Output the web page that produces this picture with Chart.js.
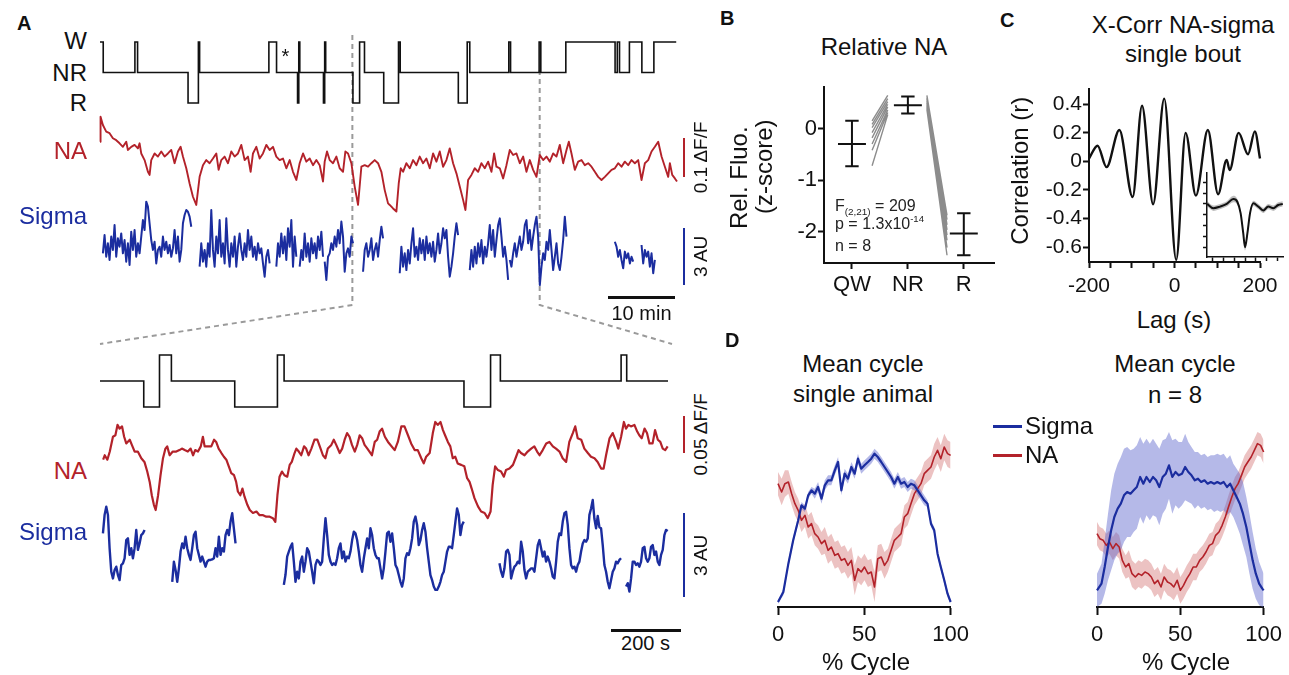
<!DOCTYPE html>
<html>
<head>
<meta charset="utf-8">
<script src="https://cdn.jsdelivr.net/npm/chart.js@4.4.1/dist/chart.umd.min.js"></script>
<style>
  html, body { margin: 0; padding: 0; background: #fff; }
  body { position: relative; width: 1289px; height: 675px; overflow: hidden; font-family: "Liberation Sans", Arial, sans-serif; color: #111; }
  canvas { position: absolute; }
  .t { position: absolute; white-space: nowrap; line-height: 1; }
  .t sub { font-size: 0.62em; line-height: 0; vertical-align: -0.45em; }
  .t sup { font-size: 0.6em; line-height: 0; vertical-align: 0.75em; }
  .bar { position: absolute; }
  svg { position: absolute; left: 0; top: 0; }
</style>
</head>
<body>
<script>
// ---------- Panel A: full recording (time in s) ----------
const stateLevel = { W: 2, NR: 1, R: 0 };
const hypTopT = [0,29,314,338,792,885,896,1519,1588,1777,1788,1797,2010,2021,2030,2275,2335,2379,2552,2685,2700,3223,3303,3326,3677,3693,3950,3965,4190,4633,4653,4673,4762,4874,4982,5183];
const hypTopS = ['W','NR','W','NR','R','W','NR','W','NR','R','W','NR','R','W','NR','R','W','NR','R','W','NR','R','W','NR','W','NR','W','NR','W','NR','W','NR','W','NR','W','W'];

// NA, % dF/F
const naTopT = [0,5,26,56,86,116,146,176,206,236,251,281,311,341,356,371,401,431,446,461,491,521,551,581,611,641,671,701,725,746,776,806,836,866,896,926,956,986,1016,1046,1067,1091,1121,1151,1181,1211,1241,1271,1301,1331,1355,1376,1406,1436,1466,1496,1526,1556,1586,1616,1646,1676,1706,1736,1766,1796,1826,1856,1886,1916,1946,1976,2006,2021,2042,2066,2096,2126,2156,2186,2207,2231,2261,2291,2321,2351,2381,2411,2441,2471,2501,2531,2561,2591,
  2606,2636,2666,2687,2705,2726,2756,2786,2816,2846,2876,2906,2936,2966,2996,3026,3056,3086,3116,3146,3176,3206,3236,3266,3287,3311,3341,3371,3401,3431,3461,3491,3521,3545,3566,3596,3626,3656,3686,3716,3746,3776,3806,3836,3866,3896,3926,3956,3986,4016,4046,4076,4106,4136,4166,4196,4217,4241,4271,4301,4331,4361,4391,4421,4451,4481,4511,4541,4571,4601,4631,4661,4691,4721,4751,4781,4811,4841,4871,4901,4931,4961,4991,5021,5051,5081,5111,5126,5147,5171,5190];
const naTopV = [17.5,23.9,21.8,20.1,19.7,18.4,17.9,17.1,16.2,17.5,15.4,16.2,16.7,15.8,17.1,14.5,12.8,9.8,9.0,12.8,14.5,13.7,15.0,13.7,14.5,15.4,12.0,15.0,16.2,13.7,10.7,6.8,3.4,1.3,8.5,11.5,12.8,12.0,13.2,14.5,10.3,12.8,13.7,12.0,15.0,13.7,14.5,16.7,12.8,13.7,9.8,14.5,16.2,13.2,14.5,16.7,15.4,16.2,13.7,12.8,13.2,10.7,12.8,9.8,7.7,12.0,14.5,12.4,13.2,11.5,12.8,11.5,7.3,12.4,15.0,12.8,12.0,13.7,10.7,9.8,15.0,14.5,12.0,6.0,1.3,11.1,11.5,11.1,12.0,12.8,12.0,9.8,5.1,1.7,
  1.3,0.4,-0.4,6.8,10.7,9.8,12.0,10.7,12.8,11.5,13.7,12.0,13.2,10.7,14.5,12.4,15.0,11.1,12.8,15.8,12.0,9.4,6.0,2.6,0.0,7.7,9.0,10.7,9.8,12.0,10.7,12.4,9.8,14.5,11.1,10.7,8.1,11.5,15.4,14.1,14.5,12.0,13.7,9.8,12.8,10.3,8.5,14.1,12.8,13.7,12.4,14.5,13.7,16.7,12.0,15.4,17.5,14.5,10.3,12.4,12.8,11.5,12.0,11.1,9.8,8.5,7.7,8.5,9.4,10.3,10.7,12.0,11.1,12.4,11.5,12.8,12.0,12.8,7.7,12.0,12.8,15.0,16.2,17.5,13.7,11.1,8.5,12.0,9.0,8.1,7.3];

// sigma power (AU), NREM bouts sampled every 15 s
const sigTopDt = 15;
const sigTopStart = [26, 896, 1586, 1796, 2021, 2366, 2696, 3326, 3686, 4631, 4871];
const sigTopSegs = [
  [1.93,2.89,1.75,2.46,1.58,2.81,2.11,3.42,1.75,2.72,2.28,2.98,1.93,2.63,1.49,2.46,1.32,3.07,2.11,3.16,1.75,2.46,1.93,2.81,3.68,3.16,4.65,4.39,3.51,2.63,2.11,2.54,1.40,2.11,2.28,1.75,2.81,2.11,2.54,1.93,2.37,1.75,2.19,3.16,1.93,2.81,1.49,2.11,3.51,3.95,4.21,4.12,3.86,3.33],
  [1.23,2.46,1.49,2.11,1.23,2.46,1.75,4.21,2.11,1.23,2.81,1.93,3.68,1.75,2.46,1.40,3.77,2.11,1.23,2.46,1.75,2.81,1.23,2.28,2.98,2.11,1.58,2.46,1.75,3.16,2.11,2.81,1.75,2.28,1.58,2.46,1.93,2.19,1.40,0.70,1.75,2.11,1.40],
  [1.23,2.46,1.75,2.98,1.93,2.81,1.58,3.25,2.28,3.68,1.23,2.81,1.75],
  [1.23,2.11,1.58,2.98,1.75,2.46,1.49,2.72,1.93,2.46,1.67,2.81,2.11,3.07,1.75],
  [1.49,0.53,1.75,1.93,2.46,2.11,2.81,2.28,3.16,2.46,3.60,2.81,0.96,1.93,2.19,1.75,2.81,2.46],
  [0.96,2.11,2.46,1.75,2.11,2.72,1.58,2.11,2.46,1.75,2.63,3.33,2.72],
  [0.88,2.28,1.23,1.93,1.05,2.11,1.40,2.46,3.25,1.75,2.28,1.58,2.72,1.93,2.63,1.58,2.81,1.93,2.46,1.75,2.54,1.49,2.11,2.98,1.93,2.46,3.25,2.72,3.16,1.75,0.70,1.23,1.93,2.81,3.51,2.89],
  [1.05,2.11,1.23,2.28,1.40,2.46,1.75,2.63,1.40,2.28,1.75,2.46,3.42,2.11,3.16,1.75,2.63,3.42,3.77,2.81,1.75,2.28,1.58,0.53],
  [1.58,1.23,1.93,2.46,1.75,2.28,2.81,2.11,2.54,3.42,3.68,2.46,3.16,2.11,2.81,3.42,3.86,2.81,0.26,1.23,1.93,1.58,2.54,2.11,3.16,2.11,1.05,1.75,2.46,1.40,1.05,1.75,2.63,3.86,2.81],
  [2.54,2.28,1.75,2.11,1.58,1.14,2.02,1.67,1.93,1.40,1.75,1.49],
  [2.37,1.40,2.11,1.75,2.02,1.23,1.93,0.88,1.58]
];
const zoomWin = [2270, 3955];

// ---------- Panel A: zoomed window (time in s) ----------
const hypZoomT = [0,125,170,204,385,507,526,1040,1116,1144,1489,1505,1623];
const hypZoomS = ['NR','R','W','NR','R','W','NR','R','W','NR','W','NR','NR'];
const naZoomT = [9,13.5,21,28,37,44,50,56,63,69,75,85,91,99,108,118,127,135,142,148,154,159,166,173,180,187,192,199,208,218,227,234,242,251,259,266,272,280,288,294,299,308,318,326,332,339,347,354,361,368,375,383,389,394,401,407,413,421,428,437,447,456,466,475,485,494,501,507,513,520,527,535,542,548,556,561,568,575,583,589,596,604,613,621,628,637,644,651,661,668,675,685,692,699,706,713,720,728,735,742,749,756,764,770,777,785,792,799,806,814,823,
  842,851,861,870,880,889,899,908,918,925,932,942,951,958,965,973,980,986,994,1001,1008,1015,1022,1032,1041,1049,1056,1062,1070,1080,1089,1099,1108,1116,1122,1129,1137,1146,1154,1160,1170,1180,1189,1196,1203,1213,1222,1232,1241,1249,1256,1265,1275,1284,1294,1303,1313,1322,1332,1341,1351,1358,1365,1375,1384,1394,1403,1413,1422,1432,1439,1446,1456,1465,1475,1481,1489,1497,1503,1510,1517,1527,1535,1541,1548,1556,1563,1570,1579,1586,1594,1601,1608,1615,1622];
const naZoomV = [9.5,10.1,9.5,10.6,12.6,12.8,14.2,13.7,14.0,12.6,11.7,12.2,11.5,10.6,10.6,9.7,9.2,7.9,6.5,4.7,3.4,2.7,4.7,7.4,9.7,11.0,11.3,10.1,10.6,10.6,10.8,11.0,10.8,10.6,11.0,10.1,10.8,10.6,11.3,12.6,11.3,11.3,11.3,12.2,11.9,11.0,10.4,9.9,9.5,8.6,7.7,7.4,6.5,5.2,4.7,5.6,4.5,3.4,2.7,2.3,2.5,2.0,2.0,1.8,1.8,1.6,1.1,4.7,7.2,7.9,7.4,7.2,8.8,9.2,10.4,11.0,10.6,10.1,11.3,11.0,10.1,11.0,12.2,12.2,11.3,10.1,9.7,11.0,11.5,12.2,11.5,10.4,11.0,12.2,13.1,12.6,11.5,10.6,11.5,12.8,12.4,11.5,11.0,10.6,10.1,11.9,12.2,13.3,13.7,12.6,11.9,
  10.8,11.9,14.0,14.0,12.8,11.7,10.8,10.8,9.7,9.0,9.9,10.4,13.1,14.6,14.2,14.6,13.5,12.8,11.9,11.3,9.7,9.9,9.0,8.8,8.6,7.0,6.5,5.6,4.3,3.2,2.5,2.3,1.6,2.5,6.1,8.6,8.1,7.9,7.2,8.1,8.3,8.8,9.9,10.8,10.4,10.1,10.6,11.0,11.3,10.6,10.1,10.8,11.7,11.9,11.3,11.0,10.6,9.7,9.2,11.9,13.1,14.0,12.4,12.2,11.0,10.4,9.9,9.7,9.2,8.3,8.3,10.1,12.4,13.1,11.9,11.0,12.6,14.6,13.7,14.2,14.0,14.2,13.3,12.8,12.4,13.7,13.1,11.7,11.7,13.5,12.2,11.9,11.0,10.8,11.3];
const sigZoomDt = 4.76;
const sigZoomStart = [8.4, 206.4, 525.3, 1141.4, 1503.2];
const sigZoomSegs = [
  [2.38,3.04,3.33,3.04,1.85,1.01,0.77,1.07,1.19,0.89,0.71,1.25,1.31,1.49,2.14,2.20,1.61,1.85,1.49,1.85,2.50,1.79,2.02,2.32,2.38,2.50],
  [0.65,1.37,1.07,0.65,1.13,1.73,2.02,1.85,2.26,1.85,1.61,1.43,1.85,2.32,2.44,1.85,1.61,1.37,1.55,1.37,1.19,1.37,1.43,1.43,1.45,1.49,1.85,1.55,2.26,1.61,1.85,1.73,2.32,2.50,2.32,2.80,3.10,2.56,2.02],
  [0.54,0.9,1.55,1.73,1.90,2.02,1.37,0.65,1.01,0.77,1.37,1.55,1.01,1.37,1.85,1.73,1.37,1.01,0.60,1.25,1.43,1.37,1.25,1.37,2.20,2.92,2.32,1.61,1.37,1.25,1.31,1.25,1.49,1.85,2.02,1.49,1.73,1.37,1.55,1.49,1.73,2.14,2.44,2.38,2.14,1.73,1.25,1.01,1.49,1.85,2.20,1.85,2.56,2.32,1.85,1.61,1.49,1.49,1.13,0.77,1.13,1.73,2.38,2.44,
   2.08,2.38,1.85,1.25,1.13,0.89,0.65,0.48,0.77,1.49,1.67,1.61,1.85,2.20,2.80,2.98,2.68,1.96,2.14,2.50,2.74,2.44,1.85,1.37,0.89,0.71,0.48,0.36,0.36,0.48,0.65,0.89,1.01,1.37,1.73,1.90,1.90,1.85,2.32,2.80,3.27,3.04,2.32,2.68,2.80],
  [1.31,1.01,0.83,1.13,1.73,1.79,1.61,0.77,1.01,1.19,1.25,1.37,1.31,2.08,1.73,1.07,0.77,1.01,1.07,1.13,1.13,1.01,1.49,1.96,2.14,1.85,1.55,1.73,1.37,1.55,1.37,1.13,0.83,0.77,1.37,2.08,2.38,2.32,2.80,3.10,3.15,2.68,1.85,1.25,1.13,1.19,1.01,1.25,1.37,1.73,2.02,2.14,2.08,2.20,3.04,3.27,3.57,2.9,2.56,3.0,2.6,2.56,1.96,1.25,1.01,0.65,0.42,0.71,1.01,1.13,1.37,1.31,1.43,1.49],
  [0.48,0.60,0.30,0.77,1.37,1.37,1.25,1.31,1.19,1.37,1.85,1.90,1.49,1.37,1.49,1.90,1.96,1.61,1.73,1.37,1.25,1.61,1.79,2.32,2.50,2.46]
];

// ---------- Panel B ----------
const bCats = ['QW', 'NR', 'R'];
const bPos = [1, 2, 3];
const bMean = [-0.30, 0.45, -2.03];
const bHi = [0.15, 0.62, -1.64];
const bLo = [-0.73, 0.29, -2.45];
const bTicksY = [-2, -1, 0];
const bQW = [0.15, 0.08, 0.02, -0.08, -0.18, -0.30, -0.42, -0.72];
const bNRa = [0.64, 0.58, 0.52, 0.47, 0.42, 0.36, 0.31, 0.27];
const bNRb = [0.64, 0.60, 0.57, 0.53, 0.49, 0.45, 0.41, 0.37];
const bR = [-1.68, -1.76, -1.86, -1.96, -2.06, -2.16, -2.30, -2.45];

// ---------- Panel C ----------
const cLag = [-200,-180,-159,-129,-98,-76,-50,-24,4,26,50,78,102,122,129,150,172,188,200];
const cR = [0.02,0.11,-0.04,0.22,-0.25,0.39,-0.30,0.44,-0.69,0.20,-0.24,0.22,-0.23,0.01,-0.06,0.20,0.05,0.21,0.02];
const cTicksX = [-200,-150,-100,-50,0,50,100,150,200];
const cLabX = [-200, 0, 200];
const cTicksY = [-0.6,-0.4,-0.2,0,0.2,0.4];
const insetLag = [-172,-144,-114,-83,-53,-35,-20,-8,0,11,23,38,61,83,106,129,151,172];
const insetR = [0.0,-0.08,-0.05,0.0,0.09,0.04,-0.17,-0.54,-0.8,-0.54,-0.17,0.01,-0.05,-0.12,-0.05,-0.08,-0.02,0.0];
const insetE = [0.05,0.05,0.05,0.05,0.06,0.05,0.05,0.06,0.06,0.06,0.05,0.05,0.05,0.05,0.05,0.05,0.05,0.05];
const insetTicksX = [-150,-100,-50,0,50,100,150];
const insetTicksY = [-0.8,-0.6,-0.4,-0.2,0,0.2,0.4];

// ---------- Panel D (normalised, mean +/- sem) ----------
const dTicks = [0, 50, 100];
const dLeftSigX = [0,3.1,6.0,8.8,11.7,13.6,15.6,17.5,19.4,21.3,23.2,25.2,27.1,29.0,30.9,32.9,34.8,36.7,38.6,40.5,42.5,44.4,46.3,48.2,50.1,52.1,54.0,55.9,57.8,59.8,61.7,63.6,65.5,67.4,69.4,71.3,73.2,75.1,77.0,79.0,80.9,82.8,84.7,86.6,88.6,90.5,92.4,94.3,96.3,98.2,100];
const dLeftSigV = [0.03,0.09,0.26,0.40,0.52,0.61,0.59,0.67,0.70,0.68,0.72,0.65,0.73,0.76,0.76,0.82,0.87,0.70,0.80,0.77,0.84,0.80,0.89,0.83,0.85,0.87,0.89,0.92,0.90,0.87,0.84,0.81,0.78,0.74,0.78,0.74,0.75,0.72,0.74,0.73,0.70,0.67,0.64,0.62,0.50,0.46,0.32,0.24,0.16,0.08,0.03];
const dLeftSigE = [0.01,0.02,0.02,0.02,0.02,0.02,0.02,0.02,0.02,0.03,0.03,0.03,0.03,0.03,0.03,0.03,0.03,0.03,0.03,0.03,0.03,0.03,0.03,0.03,0.03,0.03,0.03,0.03,0.03,0.03,0.03,0.03,0.03,0.03,0.03,0.03,0.03,0.03,0.03,0.03,0.03,0.03,0.03,0.02,0.02,0.02,0.02,0.02,0.02,0.02,0.01];
const dLeftNaX = [0,2.1,4.0,6.0,7.9,9.8,11.7,13.6,15.6,17.5,19.4,21.3,23.2,25.2,27.1,29.0,30.9,32.9,34.8,36.7,38.6,40.5,42.5,44.4,46.3,48.2,50.1,52.1,54.0,55.9,57.8,59.8,61.7,63.6,65.5,67.4,69.4,71.3,73.2,75.1,77.0,79.0,80.9,82.8,84.7,86.6,88.6,90.5,92.4,94.3,96.3,98.2,100];
const dLeftNaV = [0.74,0.69,0.74,0.75,0.68,0.62,0.58,0.52,0.55,0.48,0.50,0.44,0.42,0.38,0.40,0.34,0.36,0.31,0.32,0.28,0.29,0.25,0.28,0.16,0.23,0.21,0.24,0.20,0.21,0.12,0.29,0.30,0.25,0.28,0.34,0.40,0.42,0.44,0.54,0.56,0.62,0.68,0.71,0.74,0.80,0.82,0.84,0.90,0.94,0.89,0.96,0.92,0.91];
const dLeftNaE = [0.07,0.08,0.08,0.07,0.07,0.07,0.07,0.07,0.07,0.07,0.07,0.07,0.07,0.07,0.08,0.08,0.08,0.08,0.08,0.08,0.08,0.08,0.08,0.09,0.08,0.08,0.08,0.08,0.08,0.09,0.08,0.08,0.08,0.07,0.07,0.07,0.07,0.07,0.07,0.07,0.07,0.07,0.07,0.07,0.07,0.07,0.07,0.08,0.08,0.08,0.08,0.08,0.08];
const dRightSigX = [0,2.7,4.6,6.6,8.5,10.4,12.4,14.3,16.2,18.1,20.1,22.0,23.9,25.9,27.8,29.7,31.7,33.6,35.5,37.4,39.4,41.3,43.2,45.2,47.1,49.0,51.0,52.9,54.8,56.7,58.7,60.6,62.5,64.5,66.4,68.3,70.3,72.2,74.1,76.0,78.0,79.9,81.8,83.8,85.7,87.6,89.6,91.5,93.4,95.3,97.3,99.2,100];
const dRightSigV = [0.10,0.14,0.24,0.36,0.46,0.54,0.59,0.62,0.67,0.69,0.68,0.70,0.72,0.78,0.74,0.78,0.75,0.78,0.76,0.72,0.78,0.80,0.85,0.78,0.81,0.79,0.80,0.84,0.81,0.79,0.76,0.77,0.75,0.76,0.74,0.75,0.74,0.75,0.74,0.75,0.72,0.74,0.70,0.66,0.62,0.56,0.48,0.38,0.28,0.20,0.14,0.11,0.10];
const dRightSigE = [0.10,0.12,0.16,0.20,0.24,0.26,0.27,0.28,0.28,0.27,0.26,0.25,0.25,0.24,0.24,0.23,0.23,0.23,0.22,0.23,0.22,0.21,0.20,0.22,0.20,0.20,0.19,0.20,0.18,0.17,0.17,0.16,0.16,0.16,0.16,0.16,0.17,0.17,0.17,0.17,0.17,0.17,0.16,0.17,0.18,0.19,0.18,0.18,0.17,0.15,0.13,0.11,0.10];
const dRightNaX = [0,1.7,3.7,5.6,7.5,9.5,11.4,13.3,15.2,17.2,19.1,21.0,23.0,24.9,26.8,28.8,30.7,32.6,34.5,36.5,38.4,40.3,42.3,44.2,46.1,48.1,50.0,51.9,53.9,55.8,57.7,59.6,61.6,63.5,65.4,67.4,69.3,71.2,73.2,75.1,77.0,78.9,80.9,82.8,84.7,86.7,88.6,90.5,92.5,94.4,96.3,98.2,100];
const dRightNaV = [0.44,0.41,0.40,0.37,0.39,0.35,0.38,0.36,0.28,0.24,0.26,0.20,0.18,0.20,0.19,0.21,0.20,0.18,0.14,0.16,0.12,0.18,0.15,0.14,0.12,0.16,0.10,0.13,0.17,0.20,0.24,0.24,0.28,0.30,0.33,0.37,0.38,0.43,0.45,0.49,0.54,0.60,0.66,0.71,0.74,0.79,0.84,0.87,0.90,0.94,0.98,0.97,0.93];
const dRightNaE = [0.07,0.07,0.07,0.07,0.07,0.07,0.07,0.07,0.07,0.07,0.08,0.08,0.08,0.08,0.08,0.08,0.08,0.08,0.08,0.08,0.08,0.08,0.08,0.08,0.08,0.08,0.08,0.08,0.08,0.08,0.08,0.08,0.07,0.07,0.07,0.07,0.07,0.07,0.07,0.07,0.07,0.07,0.07,0.07,0.07,0.07,0.07,0.07,0.07,0.07,0.07,0.07,0.07];

// ---------- setup ----------
const RED = '#b3222a', BLUE = '#1b2d9f', INK = '#111';
const FONT = '"Liberation Sans", Arial, sans-serif';
Chart.defaults.font.family = FONT;
Chart.defaults.color = INK;
Chart.defaults.animation = false;
Chart.defaults.events = [];
Chart.defaults.plugins.legend.display = false;
Chart.defaults.plugins.tooltip.enabled = false;
Chart.defaults.elements.point.radius = 0;
Chart.defaults.elements.line.borderJoinStyle = 'round';

// canvas whose chart area lands on `area` (page px); m = margins, wy/hx = fixed axis sizes
function place(area, m, cfg, wy, hx) {
  const [l, t, r, b] = area;
  const c = document.createElement('canvas');
  const w = r - l + m[0] + m[2], h = b - t + m[1] + m[3];
  c.width = w; c.height = h;
  Object.assign(c.style, { left: (l - m[0]) + 'px', top: (t - m[1]) + 'px', width: w + 'px', height: h + 'px' });
  document.body.appendChild(c);
  cfg.options = Object.assign({
    responsive: false, devicePixelRatio: 1,
    layout: { autoPadding: false, padding: { left: m[0] - (wy || 0), top: m[1], right: m[2], bottom: m[3] - (hx || 0) } }
  }, cfg.options);
  const ch = new Chart(c, cfg);
  ch.offX = l - m[0]; ch.offY = t - m[1];
  return ch;
}
const hid = (min, max) => ({ type: 'linear', display: false, min, max });

function axis(pos, min, max, ticks, fmt, o) {
  return {
    type: 'linear', position: pos, min, max,
    afterBuildTicks: s => { s.ticks = ticks.map(v => ({ value: v })); },
    afterFit: s => { if (pos === 'left') s.width = o.size; else s.height = o.size; },
    ticks: { display: o.labels !== false, autoSkip: false, maxRotation: 0, padding: o.pad, color: INK, font: { size: o.font }, callback: fmt },
    grid: { drawOnChartArea: false, drawTicks: true, tickLength: o.tl, tickWidth: o.w, tickColor: INK },
    border: { display: true, color: INK, width: o.w }
  };
}

function trace(area, xr, yr, pts, color, width, extra) {
  return place(area, [4, 4, 4, 4], {
    type: 'line',
    data: { datasets: [Object.assign({ data: pts, borderColor: color, borderWidth: width, fill: false, spanGaps: false, clip: false, tension: 0 }, extra || {})] },
    options: { scales: { x: hid(xr[0], xr[1]), y: hid(yr[0], yr[1]) } }
  });
}

function segPts(starts, segs, dt) {
  const pts = [];
  segs.forEach((seg, k) => {
    seg.forEach((v, i) => pts.push({ x: starts[k] + i * dt, y: v }));
    pts.push({ x: starts[k] + seg.length * dt, y: null });
  });
  return pts;
}
const xy = (xs, ys) => xs.map((x, i) => ({ x, y: ys[i] }));

// ---------- Panel A charts ----------
const hypPts = (ts, ss) => ts.map((t, i) => ({ x: t, y: stateLevel[ss[i]] }));
const hypTop = trace([100, 42, 677, 103], [0, 5190], [0, 2], hypPts(hypTopT, hypTopS), INK, 1.6, { stepped: true, borderJoinStyle: 'miter' });
const naTop = trace([100, 110, 677, 215], [0, 5190], [-1.28, 25.64], xy(naTopT, naTopV), RED, 1.9);
const sigTop = trace([100, 195, 677, 295], [0, 5190], [-0.263, 5.0], segPts(sigTopStart, sigTopSegs, sigTopDt), BLUE, 2);
const hypZoom = trace([100, 355, 668, 407], [0, 1623], [0, 2], hypPts(hypZoomT, hypZoomS), INK, 1.6, { stepped: true, borderJoinStyle: 'miter' });
const naZoom = trace([100, 415, 668, 535], [0, 1623], [-0.676, 15.54], xy(naZoomT, naZoomV), RED, 2.2);
const sigZoom = trace([100, 495, 668, 605], [0, 1623], [-0.179, 3.75], segPts(sigZoomStart, sigZoomSegs, sigZoomDt), BLUE, 2.4);

// ---------- Panel B ----------
const eb = [];
bPos.forEach((c, i) => {
  eb.push({ x: c - 0.25, y: bMean[i] }, { x: c + 0.25, y: bMean[i] }, { x: c, y: null },
          { x: c, y: bLo[i] }, { x: c, y: bHi[i] }, { x: c, y: null },
          { x: c - 0.12, y: bHi[i] }, { x: c + 0.12, y: bHi[i] }, { x: c, y: null },
          { x: c - 0.12, y: bLo[i] }, { x: c + 0.12, y: bLo[i] }, { x: c, y: null });
});
const indiv = [];
bQW.forEach((q, i) => {
  indiv.push({ x: 1.36, y: q }, { x: 1.64, y: bNRa[i] }, { x: 1.7, y: null },
             { x: 2.34, y: bNRb[i] }, { x: 2.70, y: bR[i] }, { x: 2.75, y: null });
});
place([824, 81, 994, 263], [84, 8, 10, 40], {
  type: 'line',
  data: { datasets: [
    { data: eb, borderColor: INK, borderWidth: 2, spanGaps: false, clip: false, borderJoinStyle: 'miter' },
    { data: indiv, borderColor: '#8c8c8c', borderWidth: 1.4, spanGaps: false, clip: false }
  ] },
  options: { scales: {
    x: axis('bottom', 0.5, 3.54, bPos, v => bCats[bPos.indexOf(v)] || '', { size: 36, pad: 3, font: 22, tl: 6, w: 2 }),
    y: axis('left', -2.6, 0.8, bTicksY, v => String(v), { size: 62, pad: 1, font: 22, tl: 6, w: 2 })
  } }
}, 62, 36);

// ---------- Panel C ----------
place([1089, 83, 1260, 262], [60, 8, 24, 40], {
  type: 'line',
  data: { datasets: [{ data: xy(cLag, cR), borderColor: INK, borderWidth: 2.4, cubicInterpolationMode: 'monotone', clip: false }] },
  options: { scales: {
    x: axis('bottom', -200, 200, cTicksX, v => cLabX.includes(v) ? String(v) : '', { size: 36, pad: 6, font: 21, tl: 6, w: 2 }),
    y: axis('left', -0.705, 0.51, cTicksY, v => v === 0 ? '0' : v.toFixed(1), { size: 56, pad: 1, font: 21, tl: 6, w: 2 })
  } }
}, 56, 36);

place([1207, 173, 1283, 257], [10, 4, 4, 10], {
  type: 'line',
  data: { datasets: [
    { data: xy(insetLag, insetR), borderColor: INK, borderWidth: 2, cubicInterpolationMode: 'monotone', clip: false },
    { data: insetLag.map((x, i) => ({ x, y: insetR[i] + insetE[i] })), borderWidth: 0, backgroundColor: 'rgba(0,0,0,0.25)', fill: '+1', cubicInterpolationMode: 'monotone', clip: false },
    { data: insetLag.map((x, i) => ({ x, y: insetR[i] - insetE[i] })), borderWidth: 0, fill: false, cubicInterpolationMode: 'monotone', clip: false }
  ] },
  options: { scales: {
    x: axis('bottom', -173, 173, insetTicksX, () => '', { size: 8, pad: 0, font: 10, tl: 4, w: 1.5, labels: false }),
    y: axis('left', -0.98, 0.57, insetTicksY, () => '', { size: 8, pad: 0, font: 10, tl: 4, w: 1.5, labels: false })
  } }
}, 8, 8);

// ---------- Panel D ----------
function band(xs, ys, es, line, fillc, lw) {
  return [
    { data: xy(xs, ys), borderColor: line, borderWidth: lw, clip: false },
    { data: xs.map((x, i) => ({ x, y: ys[i] + es[i] })), borderWidth: 0, backgroundColor: fillc, fill: '+1', clip: false },
    { data: xs.map((x, i) => ({ x, y: ys[i] - es[i] })), borderWidth: 0, fill: false, clip: false }
  ];
}
function cyclePanel(area, m, sig, na, sigLw, naLw) {
  const s = band(sig[0], sig[1], sig[2], BLUE, 'rgba(90,100,205,0.45)', sigLw);
  const n = band(na[0], na[1], na[2], RED, 'rgba(205,95,95,0.38)', naLw);
  return place(area, m, {
    type: 'line',
    data: { datasets: [s[0], n[0], s[1], s[2], n[1], n[2]] },
    options: { scales: {
      x: axis('bottom', 0, 100, dTicks, v => String(v), { size: 44, pad: 7, font: 22, tl: 8, w: 2 }),
      y: hid(0, 1.062)
    } }
  }, 0, 44);
}
cyclePanel([778, 430, 952, 607], [20, 6, 24, 48], [dLeftSigX, dLeftSigV, dLeftSigE], [dLeftNaX, dLeftNaV, dLeftNaE], 2.2, 1.6);
cyclePanel([1097, 430, 1270, 607], [20, 6, 19, 48], [dRightSigX, dRightSigV, dRightSigE], [dRightNaX, dRightNaV, dRightNaE], 2.2, 1.6);

// ---------- annotations ----------
function txt(html, x, y, size, o) {
  o = o || {};
  const d = document.createElement('div');
  d.className = 't';
  d.innerHTML = html;
  d.style.fontSize = size + 'px';
  d.style.left = x + 'px';
  d.style.top = (y - 0.49 * size) + 'px';
  if (o.color) d.style.color = o.color;
  if (o.bold) d.style.fontWeight = 'bold';
  const sh = o.align === 'center' ? '-50%' : o.align === 'right' ? '-100%' : '0';
  let tf = 'translateX(' + sh + ')';
  if (o.rot) { tf += ' rotate(-90deg)'; d.style.transformOrigin = '50% ' + (0.49 * size) + 'px'; }
  d.style.transform = tf;
  document.body.appendChild(d);
}
function bar(x, y, w, h, color) {
  const d = document.createElement('div');
  d.className = 'bar';
  Object.assign(d.style, { left: x + 'px', top: y + 'px', width: w + 'px', height: h + 'px', background: color });
  document.body.appendChild(d);
}
const span = (ch, ax, v) => Math.abs(ch.scales[ax].getPixelForValue(v) - ch.scales[ax].getPixelForValue(0));

// zoom connector
const px = (ch, v) => ch.scales.x.getPixelForValue(v) + ch.offX;
const zl = px(hypTop, zoomWin[0]), zr = px(hypTop, zoomWin[1]);
const zl2 = px(hypZoom, 0), zr2 = px(hypZoom, 1623) + 4;
const svg = document.createElementNS('http://www.w3.org/2000/svg', 'svg');
svg.setAttribute('width', 1289); svg.setAttribute('height', 675);
svg.innerHTML =
  '<polyline points="' + zl + ',35 ' + zl + ',305 ' + zl2 + ',344" fill="none" stroke="#9a9a9a" stroke-width="2" stroke-dasharray="5,4"/>' +
  '<polyline points="' + zr + ',70 ' + zr + ',305 ' + zr2 + ',344" fill="none" stroke="#9a9a9a" stroke-width="2" stroke-dasharray="5,4"/>';
document.body.insertBefore(svg, document.body.firstChild);

// scale bars
bar(682.5, 138, 2.5, span(naTop, 'y', 10), RED);
bar(682.5, 228, 2.5, span(sigTop, 'y', 3), BLUE);
bar(682.5, 416, 2.5, span(naZoom, 'y', 5), RED);
bar(682.5, 513, 2.5, span(sigZoom, 'y', 3), BLUE);
bar(608, 296, span(hypTop, 'x', 600), 2.5, INK);
bar(611, 629, span(hypZoom, 'x', 200), 2.5, INK);

// text: panel A
txt('A', 17, 23, 20, { bold: true });
txt('W', 87, 41, 24, { align: 'right' });
txt('NR', 87, 72.5, 24, { align: 'right' });
txt('R', 87, 103, 24, { align: 'right' });
txt('NA', 87, 151, 24, { align: 'right', color: RED });
txt('Sigma', 87, 216, 24, { align: 'right', color: BLUE });
txt('*', 285.5, 56, 20, { align: 'center' });
txt('NA', 87, 470.5, 24, { align: 'right', color: RED });
txt('Sigma', 87, 532, 24, { align: 'right', color: BLUE });
txt('10 min', 641.5, 313, 20, { align: 'center' });
txt('200 s', 645.5, 643, 20, { align: 'center' });
txt('0.1 ΔF/F', 700, 157.5, 19, { align: 'center', rot: true });
txt('3 AU', 700, 256.5, 19, { align: 'center', rot: true });
txt('0.05 ΔF/F', 700, 434.5, 19, { align: 'center', rot: true });
txt('3 AU', 700, 555, 19, { align: 'center', rot: true });

// panel B
txt('B', 720, 18, 20, { bold: true });
txt('Relative NA', 884, 46.5, 24, { align: 'center' });
txt('Rel. Fluo.', 739, 178, 24, { align: 'center', rot: true });
txt('(z-score)', 764, 166.5, 24, { align: 'center', rot: true });
txt('F<sub>(2,21)</sub> = 209', 835, 206, 16, { color: '#222' });
txt('p = 1.3x10<sup>-14</sup>', 835, 224, 16, { color: '#222' });
txt('n = 8', 835, 246, 16, { color: '#222' });

// panel C
txt('C', 1000, 20, 20, { bold: true });
txt('X-Corr NA-sigma', 1183, 24.5, 24, { align: 'center' });
txt('single bout', 1183, 53.5, 24, { align: 'center' });
txt('Correlation (r)', 1020, 171, 24, { align: 'center', rot: true });
txt('Lag (s)', 1174, 320, 24, { align: 'center' });

// panel D
txt('D', 725, 340, 20, { bold: true });
txt('Mean cycle', 863, 364, 24, { align: 'center' });
txt('single animal', 863, 394, 24, { align: 'center' });
txt('Mean cycle', 1175, 364, 24, { align: 'center' });
txt('n = 8', 1175, 395, 24, { align: 'center' });
txt('% Cycle', 866, 662, 24, { align: 'center' });
txt('% Cycle', 1186, 662, 24, { align: 'center' });
bar(993, 425, 29, 2.5, BLUE);
txt('Sigma', 1025, 426, 24);
bar(993, 454, 29, 2.5, RED);
txt('NA', 1025, 455, 24);
</script>
</body>
</html>
